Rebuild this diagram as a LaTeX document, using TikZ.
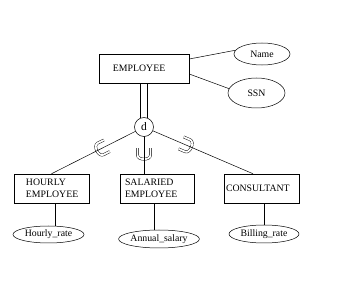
\documentclass[tikz,border=0pt]{standalone}
\usepackage{fontspec}
\setmainfont{Liberation Serif}
\usetikzlibrary{shapes.geometric,backgrounds}
\tikzset{
  ent/.style={draw, rectangle, fill=white, minimum height=29pt, align=left, inner ysep=2pt},
  attr/.style={draw, ellipse, fill=white, inner sep=0pt},
  conn/.style={draw, line width=0.5pt},
  subsetU/.pic={\draw[double, double distance=1.8pt, line width=0.45pt]
     (-6.5,-7) -- (-6.5,0) .. controls (-6.5,5.5) and (6.5,5.5) .. (6.5,0) -- (6.5,-7);}
}
\begin{document}
\begin{tikzpicture}[x=1pt, y=-1pt, font=\fontsize{9.8}{12}\selectfont, line width=0.5pt]
\useasboundingbox (0,0) rectangle (360,289);

% entities
\node[ent, text width=62pt, inner xsep=14pt] (emp) at (144,68.5) {EMPLOYEE};
\node[ent, text width=51pt, inner xsep=12pt] (hourly) at (51.5,188.5) {HOURLY\\EMPLOYEE};
\node[ent, text width=64pt, inner xsep=5pt] (sal) at (157,188.5) {SALARIED\\EMPLOYEE};
\node[ent, text width=71pt, inner xsep=2pt] (cons) at (261.5,188.5) {CONSULTANT};

% attributes
\node[attr, minimum width=56pt, minimum height=22pt] (name) at (262,54) {Name\hspace{6pt}};
\node[attr, minimum width=57pt, minimum height=30pt] (ssn) at (256.5,93) {SSN};
\node[attr, minimum width=71pt, minimum height=17pt] (hr) at (48.5,234.5) {Hourly\_rate\hspace{8pt}};
\node[attr, minimum width=70pt, minimum height=18pt] (as) at (159,239) {Annual\_salary};
\node[attr, minimum width=70pt, minimum height=18pt] (br) at (264,234) {Billing\_rate\hspace{9pt}};

% disjointness circle
\node[draw, circle, fill=white, minimum size=19pt, inner sep=0pt, font=\fontsize{11.5}{12}\selectfont] (d) at (144,127) {d};

% helper coordinates
\coordinate (hEnd) at (hourly.north);
\coordinate (sEnd) at (d.center |- sal.north);
\coordinate (cEnd) at ([xshift=-8.5pt]cons.north);
\path (d.center) -- coordinate[pos=0.47] (u1) (hEnd);
\path (d.center) -- coordinate[pos=0.6] (u2) (sEnd);
\path (d.center) -- coordinate[pos=0.40] (u3) (cEnd);

\begin{scope}[on background layer]
  \fill[white] (0,0) rectangle (360,289);
  \pic[rotate=-63.1] at (u1) {subsetU};
  \pic at (u2) {subsetU};
  \pic[rotate=66.7] at (u3) {subsetU};
  \draw[double, double distance=6.5pt] (emp.center) -- (d.center);
  \draw[conn] (d.center) -- (hEnd);
  \draw[conn] (d.center) -- (sEnd);
  \draw[conn] (d.center) -- (cEnd);
  \draw[conn] ([xshift=3.5pt]hourly.south) -- ([xshift=3.5pt]hourly.south |- hr.center);
  \draw[conn] ([xshift=-3pt]sal.south) -- ([xshift=-3pt]sal.south |- as.center);
  \draw[conn] ([xshift=2.5pt]cons.south) -- ([xshift=2.5pt]cons.south |- br.center);
\end{scope}

\draw[conn] ([yshift=9.5pt]emp.east) -- (name.172);
\draw[conn] ([yshift=-5.5pt]emp.east) -- (ssn.171);
\end{tikzpicture}
\end{document}
